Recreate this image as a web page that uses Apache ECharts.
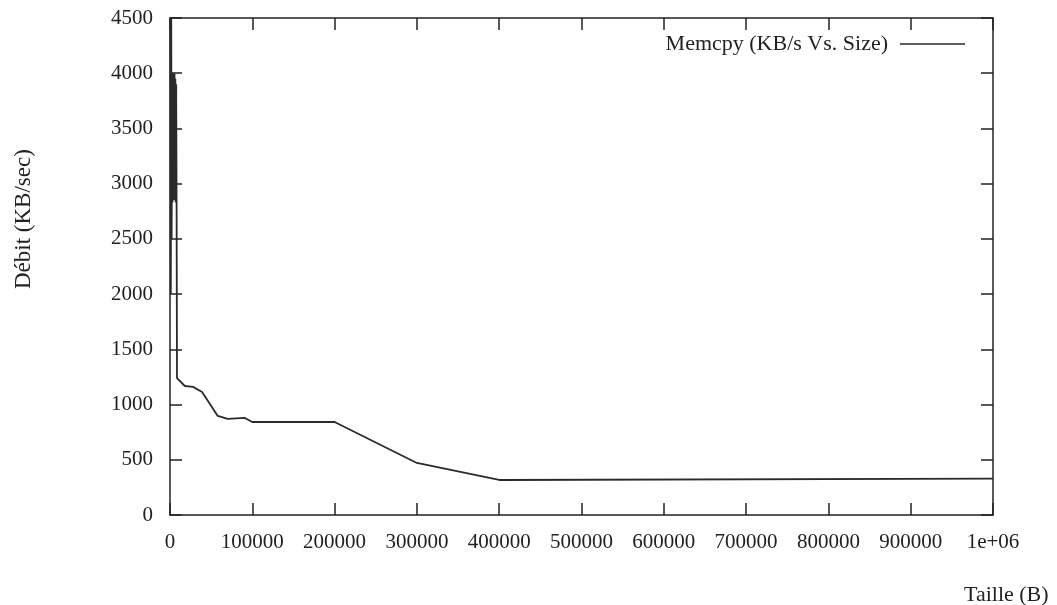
<!DOCTYPE html>
<html>
<head>
<meta charset="utf-8">
<script src="https://cdn.jsdelivr.net/npm/echarts@6/dist/echarts.min.js"></script>
<style>html,body{margin:0;padding:0;background:#fff}#c{width:1057px;height:605px}</style>
</head>
<body>
<div id="c"></div>
<script>
const seriesName = 'Memcpy (KB/s Vs. Size)';
const sizes = [500, 1000, 1500, 2000, 2500, 3000, 3500, 4000, 4500, 5000, 5500, 6000, 6500, 7000, 7500, 8000, 8500,
  18000, 28000, 39000, 58000, 70000, 91000, 100000, 200000, 300000, 400000, 1000000];
const throughput = [4500, 2000, 4500, 2500, 4000, 2830, 4000, 2900, 4000, 2850, 4000, 2900, 3950, 2830, 3900, 2830, 1240,
  1168, 1160, 1114, 897, 870, 879, 842, 842, 471, 317, 330];
const xTicks = [0, 100000, 200000, 300000, 400000, 500000, 600000, 700000, 800000, 900000, 1000000];
const xTickLabels = ['0', '100000', '200000', '300000', '400000', '500000', '600000', '700000', '800000', '900000', '1e+06'];
const yTicks = [0, 500, 1000, 1500, 2000, 2500, 3000, 3500, 4000, 4500];
const xLabel = 'Taille (B)';
const yLabel = 'Débit (KB/sec)';

const font = '"Liberation Serif", "DejaVu Serif", serif';
const ink = '#222';
const chart = echarts.init(document.getElementById('c'), null, {renderer: 'canvas'});
const axisLine = {show: true, onZero: false, lineStyle: {color: ink, width: 1.5}};
const tick = {show: true, inside: true, length: 12, lineStyle: {color: ink, width: 1.5}};
chart.setOption({
  animation: false,
  backgroundColor: '#fff',
  grid: {left: 170, right: 64, top: 18, bottom: 90, containLabel: false},
  legend: {
    data: [seriesName], right: 92, top: 33, padding: 0, align: 'right', icon: 'rect',
    itemWidth: 65, itemHeight: 1.6, itemGap: 10,
    textStyle: {fontFamily: font, fontSize: 22, color: ink, padding: [0, 7, 0, 0]}
  },
  xAxis: [{
    type: 'value', min: 0, max: 1000000, interval: 100000, position: 'bottom',
    axisLine, axisTick: tick, splitLine: {show: false},
    axisLabel: {fontFamily: font, fontSize: 21, color: ink, margin: 17,
      formatter: v => xTickLabels[xTicks.indexOf(v)]}
  }, {
    type: 'value', min: 0, max: 1000000, interval: 100000, position: 'top',
    axisLine, axisTick: tick, splitLine: {show: false}, axisLabel: {show: false}
  }],
  yAxis: [{
    type: 'value', min: 0, max: 4500, interval: 500, position: 'left',
    axisLine, axisTick: tick, splitLine: {show: false},
    axisLabel: {fontFamily: font, fontSize: 21, color: ink, margin: 17,
      formatter: v => yTicks.includes(v) ? String(v) : ''}
  }, {
    type: 'value', min: 0, max: 4500, interval: 500, position: 'right',
    axisLine, axisTick: tick, splitLine: {show: false}, axisLabel: {show: false}
  }],
  graphic: [
    {type: 'text', left: 964, top: 584, style: {text: xLabel, font: '22px ' + font, fill: ink}},
    {type: 'text', x: 12, y: 289, rotation: Math.PI / 2, originX: 0, originY: 0,
     style: {text: yLabel, font: '23px ' + font, fill: ink, textAlign: 'left', textVerticalAlign: 'top'}}
  ],
  series: [{
    name: seriesName, type: 'line', xAxisIndex: 0, yAxisIndex: 0,
    data: sizes.map((s, i) => [s, throughput[i]]),
    showSymbol: false, symbol: 'none', clip: true,
    lineStyle: {color: '#2a2a2a', width: 1.8}, itemStyle: {color: '#2a2a2a'}
  }]
});
</script>
</body>
</html>
